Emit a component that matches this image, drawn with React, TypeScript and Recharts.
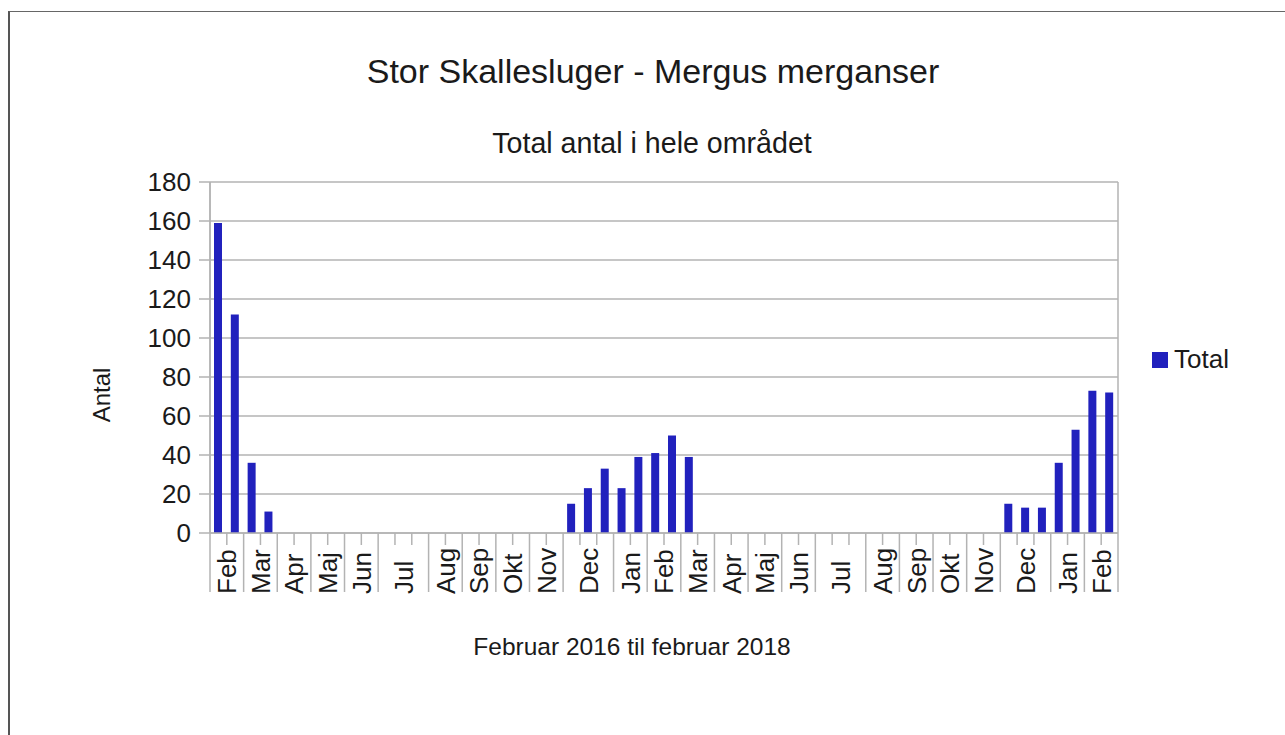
import React from "react";
import { BarChart, Bar, XAxis, YAxis, CartesianGrid, Legend } from "recharts";

// Month labels on the x axis (Feb 2016 .. Feb 2018)
const months = [
  "Feb", "Mar", "Apr", "Maj", "Jun", "Jul", "Aug", "Sep", "Okt", "Nov", "Dec",
  "Jan", "Feb", "Mar", "Apr", "Maj", "Jun", "Jul", "Aug", "Sep", "Okt", "Nov", "Dec",
  "Jan", "Feb",
];
// Number of counts (observations) within each month
const countsPerMonth = [2, 2, 2, 2, 2, 3, 2, 2, 2, 2, 3, 2, 2, 2, 2, 2, 2, 3, 2, 2, 2, 2, 3, 2, 2];
// Total counted per observation, in order
const totals = [
  159, 112, // Feb
  36, 11, // Mar
  0, 0, // Apr
  0, 0, // Maj
  0, 0, // Jun
  0, 0, 0, // Jul
  0, 0, // Aug
  0, 0, // Sep
  0, 0, // Okt
  0, 0, // Nov
  15, 23, 33, // Dec
  23, 39, // Jan
  41, 50, // Feb
  39, 0, // Mar
  0, 0, // Apr
  0, 0, // Maj
  0, 0, // Jun
  0, 0, 0, // Jul
  0, 0, // Aug
  0, 0, // Sep
  0, 0, // Okt
  0, 0, // Nov
  15, 13, 13, // Dec
  36, 53, // Jan
  73, 72, // Feb
];
const yTicks = [0, 20, 40, 60, 80, 100, 120, 140, 160, 180];

const TITLE = "Stor Skallesluger - Mergus merganser";
const SUBTITLE = "Total antal i hele området";
const X_TITLE = "Februar 2016 til februar 2018";
const Y_TITLE = "Antal";
const SERIES = "Total";

// derived structure: month index and position inside the month for each observation
const groupOf: number[] = [];
const posInGroup: number[] = [];
countsPerMonth.forEach((n, g) => {
  for (let k = 0; k < n; k++) {
    groupOf.push(g);
    posInGroup.push(k);
  }
});

const data = totals.map((v, i) => ({ slot: String(i), Total: v }));

const W = 1285;
const H = 735;
const MARGIN = { top: 182, right: 167, bottom: 142, left: 90 };
const Y_AXIS_W = 120;
const X_AXIS_H = 60;
const PLOT_W = W - MARGIN.left - MARGIN.right - Y_AXIS_W;

const FONT = "'Liberation Sans', Arial, sans-serif";
const GRID = "#b3b3b3";
const TEXT = "#1a1a1a";
const BAR = "#2121bd";

const MonthTick = (props: any) => {
  const { x, y, payload } = props;
  const i: number = payload.index;
  const half = payload.offset && payload.offset > 0 ? payload.offset : PLOT_W / totals.length / 2;
  const bw = half * 2;
  const g = groupOf[i];
  const n = countsPerMonth[g];
  const isLast = posInGroup[i] === n - 1;
  const els: React.ReactNode[] = [];
  if (i === 0) {
    els.push(<line key="l0" x1={x - half} y1={y} x2={x - half} y2={y + 59} stroke={GRID} strokeWidth={1.5} />);
  }
  els.push(
    <line key="r" x1={x + half} y1={y} x2={x + half} y2={y + (isLast ? 59 : 12)} stroke={GRID} strokeWidth={1.5} />
  );
  if (posInGroup[i] === 0) {
    const cx = x + ((n - 1) * bw) / 2;
    els.push(
      <text
        key="t"
        transform={`translate(${cx},${y + 61}) rotate(-90)`}
        textAnchor="start"
        dy="0.36em"
        fontSize={26}
        fontFamily={FONT}
        fill={TEXT}
      >
        {months[g]}
      </text>
    );
  }
  return <g>{els}</g>;
};

const LegendContent = () => (
  <div style={{ position: "relative", width: 100, height: 30, fontFamily: FONT }}>
    <div style={{ position: "absolute", left: 0, top: 6, width: 16, height: 16, background: BAR }} />
    <div style={{ position: "absolute", left: 22, top: 0, fontSize: 26, lineHeight: "26px", color: TEXT, whiteSpace: "nowrap" }}>
      {SERIES}
    </div>
  </div>
);

export default function App() {
  return (
    <div style={{ position: "fixed", left: 0, top: 0, width: W, height: H, background: "#fff", overflow: "hidden" }}>
      <div
        style={{
          position: "absolute",
          left: 8,
          top: 11,
          width: 1300,
          height: 760,
          borderLeft: "2px solid #555",
          borderTop: "1px solid #666",
        }}
      />
      <div style={{ position: "absolute", left: 0, top: 0 }}>
        <BarChart width={W} height={H} data={data} margin={MARGIN}>
          <CartesianGrid
            stroke={GRID}
            strokeWidth={1.5}
            vertical={true}
            verticalCoordinatesGenerator={(p: any) => [p.offset.left, p.offset.left + p.offset.width]}
          />
          <XAxis
            dataKey="slot"
            interval={0}
            tickLine={false}
            tickSize={0}
            tickMargin={0}
            axisLine={{ stroke: GRID, strokeWidth: 1.5 }}
            height={X_AXIS_H}
            tick={<MonthTick />}
          />
          <YAxis
            width={Y_AXIS_W}
            domain={[0, 180]}
            ticks={yTicks}
            interval={0}
            tickSize={11}
            tickMargin={8}
            tickLine={{ stroke: GRID, strokeWidth: 1.5 }}
            axisLine={{ stroke: GRID, strokeWidth: 1.5 }}
            tick={{ fontSize: 26, fontFamily: FONT, fill: TEXT }}
          />
          <Legend
            layout="horizontal"
            align="center"
            verticalAlign="middle"
            content={<LegendContent />}
            wrapperStyle={{ position: "absolute", left: 1152, top: 346, width: 120, height: 30 }}
          />
          <Bar dataKey="Total" name={SERIES} fill={BAR} barSize={8} isAnimationActive={false} />
        </BarChart>
      </div>
      <div
        style={{
          position: "absolute", left: 253, top: 54, width: 800, textAlign: "center",
          fontFamily: FONT, fontSize: 34, lineHeight: "34px", color: TEXT, whiteSpace: "nowrap",
        }}
      >
        {TITLE}
      </div>
      <div
        style={{
          position: "absolute", left: 252, top: 129, width: 800, textAlign: "center",
          fontFamily: FONT, fontSize: 28.6, lineHeight: "28.6px", color: TEXT, whiteSpace: "nowrap",
        }}
      >
        {SUBTITLE}
      </div>
      <div
        style={{
          position: "absolute", left: 332, top: 635, width: 600, textAlign: "center",
          fontFamily: FONT, fontSize: 24.5, lineHeight: "24.5px", color: TEXT, whiteSpace: "nowrap",
        }}
      >
        {X_TITLE}
      </div>
      <div
        style={{
          position: "absolute", left: 52, top: 383, width: 100, textAlign: "center",
          fontFamily: FONT, fontSize: 24, lineHeight: "24px", color: TEXT, whiteSpace: "nowrap",
          transform: "rotate(-90deg)",
        }}
      >
        {Y_TITLE}
      </div>
    </div>
  );
}
